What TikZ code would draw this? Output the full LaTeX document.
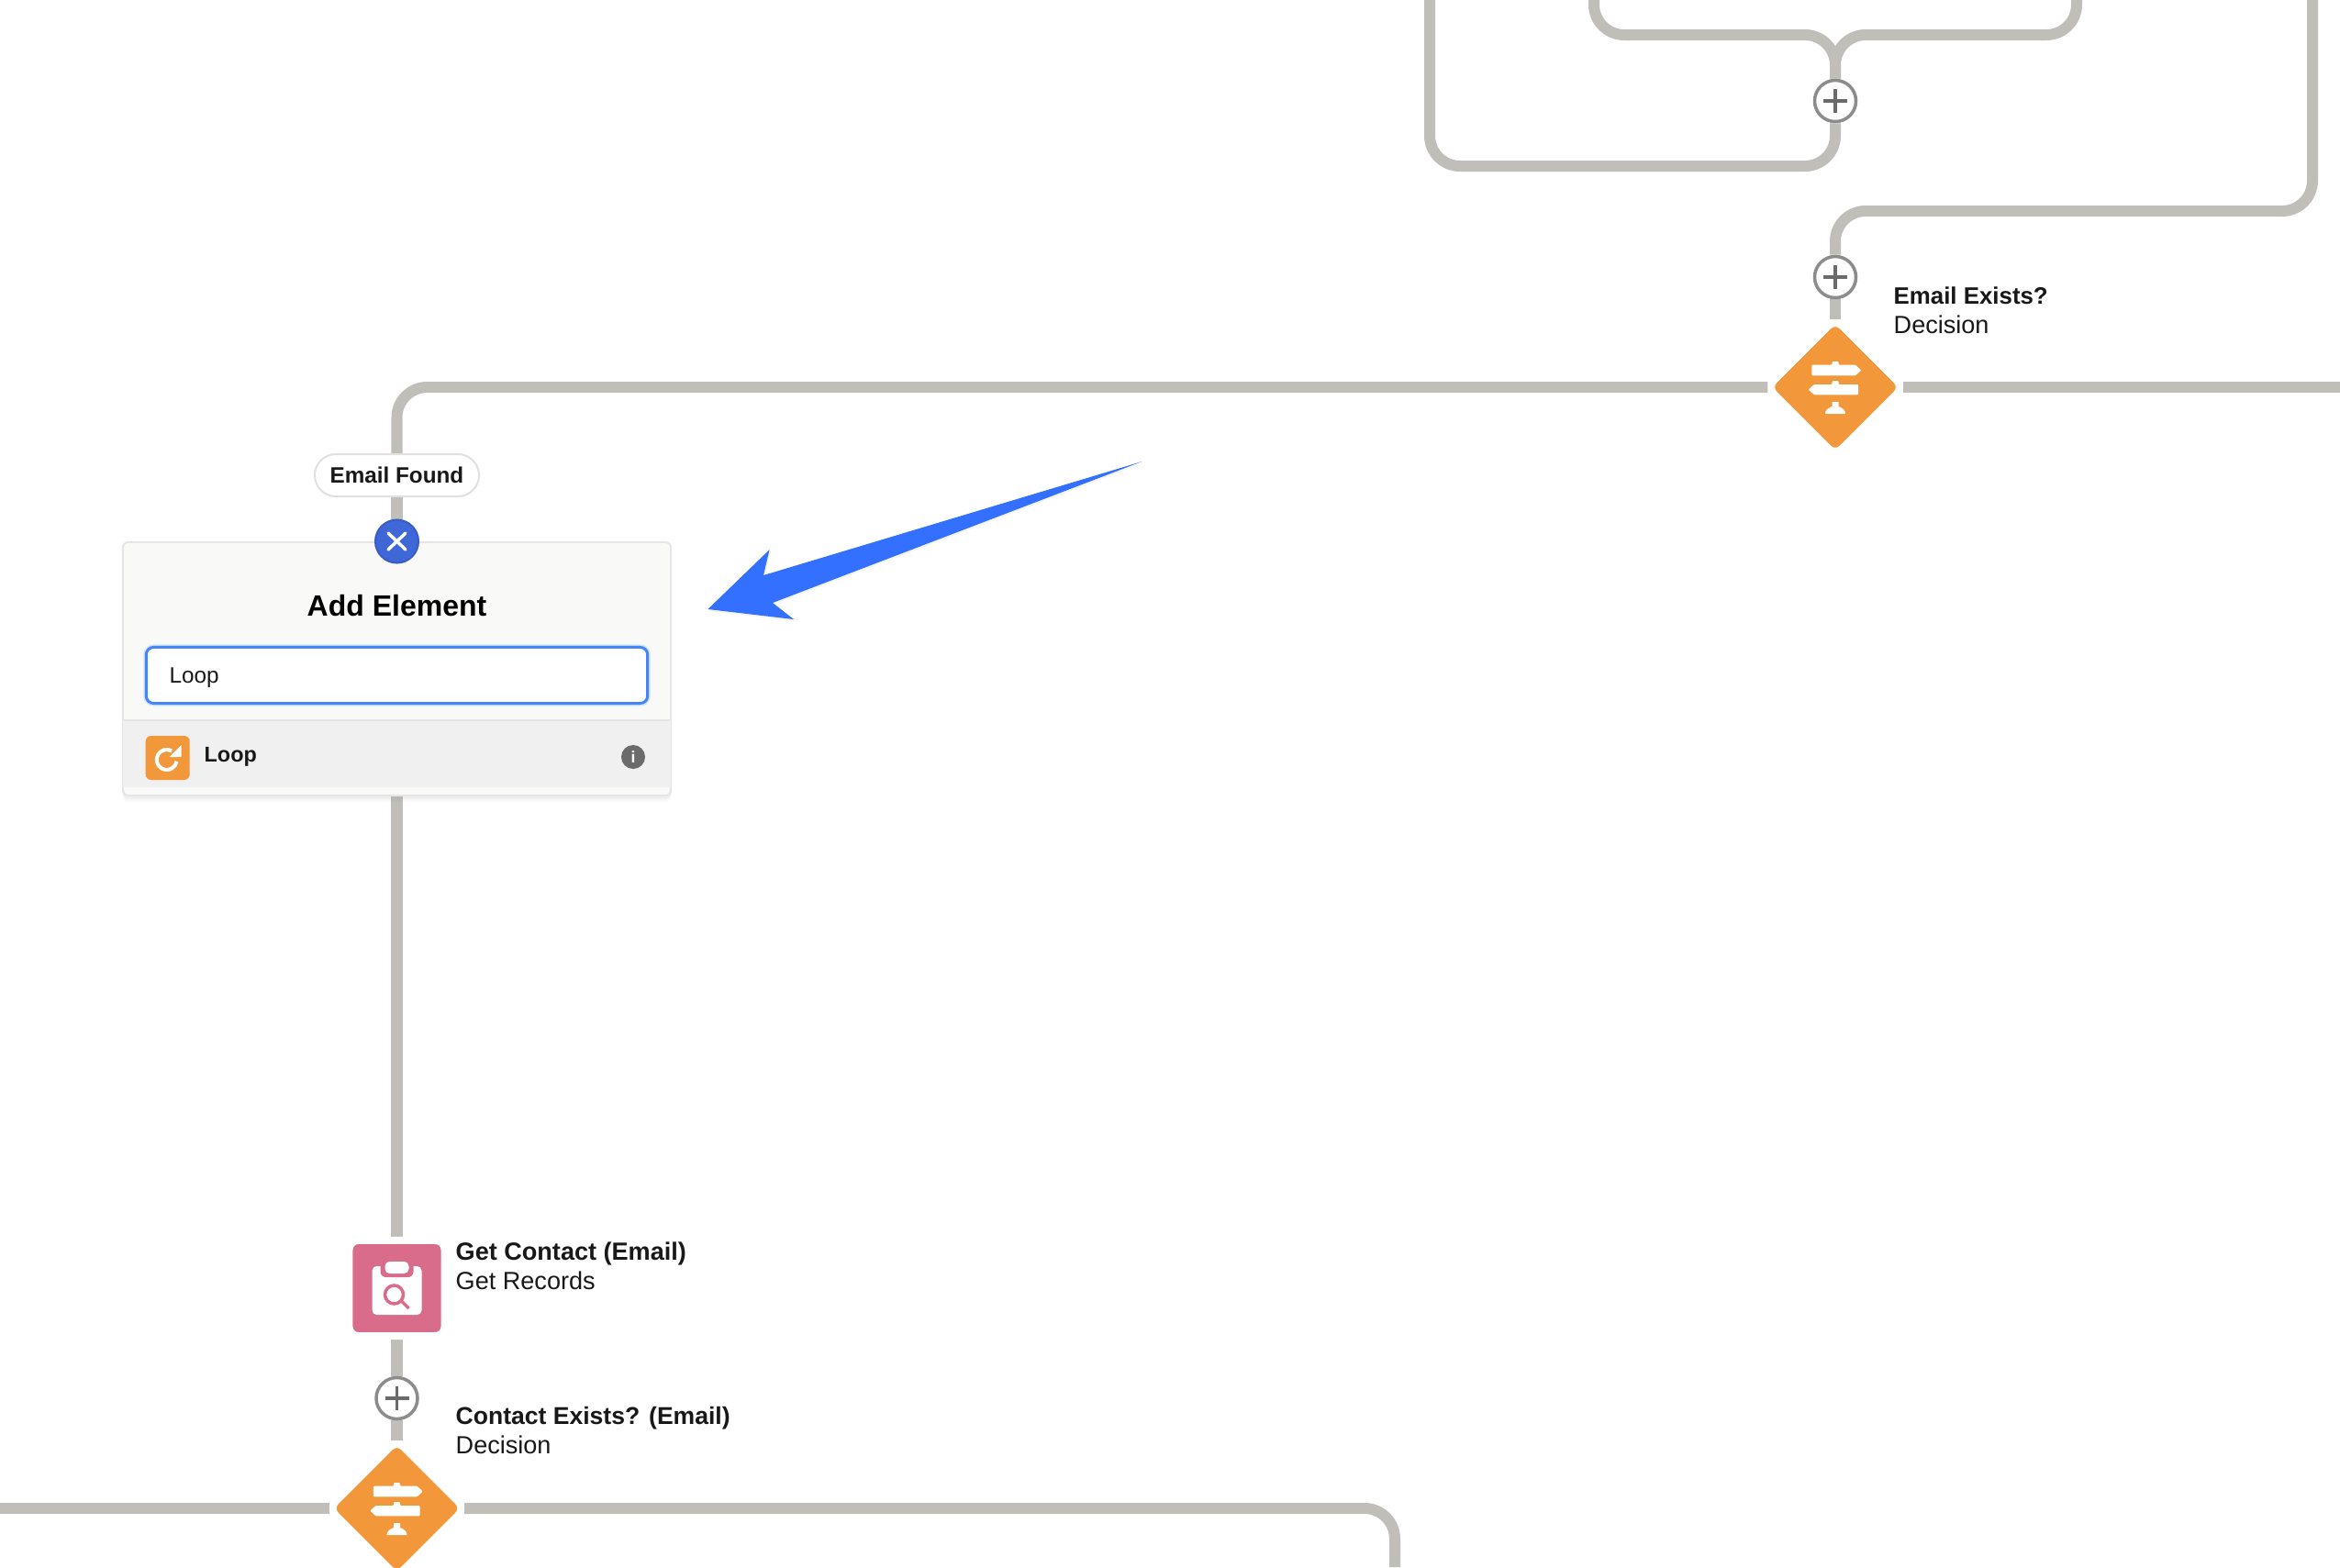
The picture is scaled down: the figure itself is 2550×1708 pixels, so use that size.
\documentclass[tikz,border=0pt]{standalone}
\usepackage{fontspec}
\setmainfont{Liberation Sans}
\usetikzlibrary{backgrounds,shadows,shapes.geometric}
\definecolor{flowgrey}{HTML}{BFBEB9}
\definecolor{flowink}{HTML}{181818}
\definecolor{signorange}{HTML}{F2973A}
\definecolor{recordpink}{HTML}{D96B8B}
\definecolor{closeblue}{HTML}{3F67D8}
\definecolor{inputblue}{HTML}{4287F5}
\definecolor{arrowblue}{HTML}{3370FF}
\definecolor{cardgrey}{HTML}{F9F9F7}
\tikzset{
	flow/.style={line width=1.2mm, color=flowgrey, rounded corners=0.33cm},
	plusbtn/.style={circle, draw=black!45, line width=0.35mm, fill=white, minimum size=0.45cm, inner sep=0,
		path picture={\draw[line width=0.35mm, color=black!58] (path picture bounding box.center) +(-13,0) -- +(13,0) (path picture bounding box.center) +(0,-13) -- +(0,13);}},
	decisionbox/.style={diamond, aspect=1, draw=white, line width=0.7mm, fill=signorange, rounded corners=0.1cm, minimum size=1.47cm, inner sep=0, outer sep=0},
	stepbox/.style={rectangle, draw=white, line width=0.8mm, fill=recordpink, rounded corners=0.1cm, minimum size=1.04cm, inner sep=0, outer sep=0},
	caption/.style={align=left, inner sep=0, text=flowink, font=\fontsize{7.7}{9.1}\selectfont},
	signpost/.pic={
		\fill[white, rounded corners=0.01cm] (-25.7,-24.3) -- (-3.5,-24.3) -- (-3.5,-28) -- (3.5,-28) -- (3.5,-24.3) -- (22,-24.3) -- (28.3,-18.5) -- (22,-12.7) -- (-25.7,-12.7) -- cycle;
		\fill[white, rounded corners=0.01cm] (25,-3) -- (3.5,-3) -- (3.5,-7) -- (-3.5,-7) -- (-3.5,-3) -- (-23,-3) -- (-29.3,2.6) -- (-23,8.3) -- (25,8.3) -- cycle;
		\fill[white] (-3.5,16) -- (3.5,16) -- (3.5,21) .. controls (9,23) and (11,26) .. (11,29) -- (-11,29) .. controls (-11,26) and (-9,23) .. (-3.5,21) -- cycle;
	},
	clipboard/.pic={
		\fill[white, rounded corners=0.05cm] (-27,-24) rectangle (27,29);
		\fill[recordpink, rounded corners=0.06cm] (-18,-30) rectangle (18,-12);
		\fill[white, rounded corners=0.05cm] (-13,-29) rectangle (13,-16);
		\draw[line width=0.35mm, color=recordpink] (-3,7) circle (10);
		\draw[line width=0.35mm, color=recordpink] (5,14) -- (13,22);
	},
	loopmark/.pic={
		\draw[line width=0.4mm, color=white] (-1,2) ++(-60:11) arc (-60:-350:11);
		\fill[white] (15,-14) -- (15,-1) -- (2,-1) -- cycle;
	},
}

\begin{document}
\begin{tikzpicture}[x=0.01cm, y=-0.01cm]
	%%%%% canvas %%%%%
	\useasboundingbox (0,0) rectangle (2550,1708);
	\coordinate (topInner) at (1737,0);
	\coordinate (topOuter) at (1558,0);
	\coordinate (topMiddle) at (2263,0);
	\coordinate (topRight) at (2520,0);
	\coordinate (rightEnd) at (2550,422);
	\coordinate (leftEnd) at (0,1644);
	\coordinate (bottomEnd) at (1520,1708);

	% upper right
	\node[plusbtn] (plusA) at (2000,110) {};
	\node[plusbtn] (plusB) at (2000,302) {};
	\node[decisionbox] (emailExists) at (2000,422) {};
	\pic at (emailExists) {signpost};
	\node[caption, anchor=north west] (emailExistsText) at (2063,312) {{\fontsize{7.35}{9.1}\selectfont\bfseries Email Exists?}\\Decision};

	% add element card
	\node[rectangle, draw=black!10, line width=0.2mm, fill=cardgrey, rounded corners=0.06cm, minimum width=5.97cm, minimum height=2.76cm, inner sep=0,
		drop shadow={shadow xshift=0cm, shadow yshift=-0.07cm, opacity=0.05},
		drop shadow={shadow xshift=0cm, shadow yshift=-0.04cm, opacity=0.08}] (addCard) at (432.5,729) {};
	\fill[black!6] (134,786) rectangle (731,858);
	\draw[line width=0.2mm, color=black!10] (134,785) -- (731,785);
	\node[inner sep=0, text=black, font=\fontsize{9.1}{11}\selectfont\bfseries] (addTitle) at (432.5,660) {Add Element};
	\node[rectangle, preaction={draw=inputblue!25, line width=0.6mm}, draw=inputblue, line width=0.3mm, fill=white, rounded corners=0.08cm, minimum width=5.46cm, minimum height=0.61cm, inner sep=0] (loopInput) at (432.5,736) {};
	\node[inner sep=0, anchor=west, text=flowink, font=\fontsize{6.9}{8}\selectfont] (loopInputText) at (184,739) {Loop};
	\node[rectangle, fill=signorange, rounded corners=0.06cm, minimum size=0.48cm, inner sep=0] (loopIcon) at (182.7,826) {};
	\pic at (loopIcon) {loopmark};
	\node[inner sep=0, anchor=west, text=flowink, font=\fontsize{6.65}{8}\selectfont\bfseries] (loopText) at (222,825) {Loop};
	\node[circle, fill=black!58, minimum size=0.26cm, inner sep=0, text=white, font=\fontsize{5}{5}\selectfont\bfseries] (loopInfo) at (690,825) {i};

	\node[circle, draw=closeblue!90!black, line width=0.2mm, fill=closeblue, minimum size=0.47cm, inner sep=0] (closeBtn) at (432.5,590) {};
	\draw[line width=0.35mm, color=white, line cap=round] (423,581) -- (442,599);
	\draw[line width=0.35mm, color=white, line cap=round] (442,581) -- (423,599);
	\node[rectangle, draw=black!12, line width=0.2mm, fill=white, rounded corners=0.23cm, minimum width=1.79cm, minimum height=0.46cm, inner sep=0, text=flowink, font=\fontsize{6.9}{8}\selectfont\bfseries] (emailFound) at (432.5,518) {Email Found};

	% lower left
	\node[stepbox] (getContact) at (432.5,1404) {};
	\pic at (getContact) {clipboard};
	\node[caption, anchor=north west] (getContactText) at (496,1353) {{\fontsize{7.7}{9.1}\selectfont\bfseries Get Contact (Email)}\\Get Records};
	\node[plusbtn] (plusC) at (432.5,1524) {};
	\node[decisionbox] (contactExists) at (432.5,1644) {};
	\pic at (contactExists) {signpost};
	\node[caption, anchor=north west] (contactExistsText) at (496,1533) {{\fontsize{7.55}{9.1}\selectfont\bfseries Contact Exists? (Email)}\\Decision};

	% big arrow
	\fill[arrowblue, drop shadow={shadow xshift=0.01cm, shadow yshift=-0.02cm, opacity=0.08}] (1244.5,503) -- (832,627) -- (838.6,599) -- (771.4,664) -- (865,675) -- (842,657) -- cycle;

	% connectors
	\begin{scope}[on background layer]
		\draw[flow] (topInner) -- (1737,38) -- (2000,38) -- (plusA);
		\draw[flow] (topMiddle) -- (2263,38) -- (2000,38) -- (plusA);
		\draw[flow] (topOuter) -- (1558,181) -- (2000,181) -- (plusA);
		\draw[flow] (topRight) -- (2520,230) -- (2000,230) -- (plusB);
		\draw[flow] (plusB) -- (emailExists);
		\draw[flow] (emailExists) -- (rightEnd);
		\draw[flow] (emailExists) -- (432.5,422) -- (emailFound);
		\draw[flow] (emailFound) -- (closeBtn);
		\draw[flow] (addCard) -- (getContact);
		\draw[flow] (getContact) -- (plusC);
		\draw[flow] (plusC) -- (contactExists);
		\draw[flow] (leftEnd) -- (contactExists);
		\draw[flow] (contactExists) -- (1520,1644) -- (bottomEnd);
	\end{scope}
\end{tikzpicture}
\end{document}
